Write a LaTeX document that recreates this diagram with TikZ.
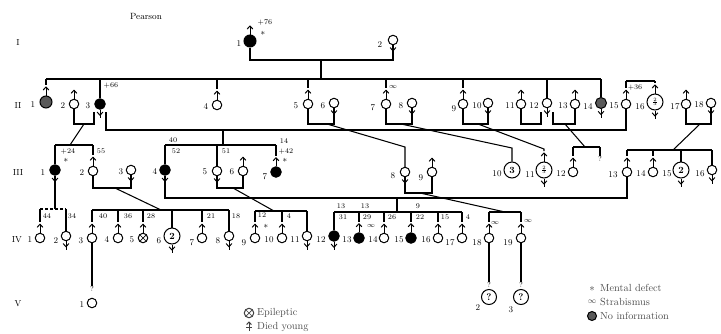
\documentclass[tikz,border=0pt]{standalone}
\usetikzlibrary{calc}
\newcommand{\Msym}[1]{\draw[sym] (#1.north) -- ++(0,-8.5); \draw[sym] ($(#1.north)+(-2.9,-5.4)$) -- ++(2.9,-3.1) -- ++(2.9,3.1);}
\newcommand{\Fsym}[1]{\draw[sym] (#1.south) -- ++(0,8.5); \draw[sym] ($(#1.south)+(-2.9,2.3)$) -- ++(2.9,3.2) -- ++(2.9,-3.2);}
\newcommand{\dropM}[2]{\draw[ln] (#2.north |- #1) -- ($(#2.north)+(0,-10.5)$);}
\newcommand{\dropF}[2]{\draw[ln] (#2.north |- #1) -- (#2.north);}
\newcommand{\twothree}{$\scriptscriptstyle\frac{2}{3}$}
\begin{document}
\begin{tikzpicture}[x=1pt,y=-1pt,
 ln/.style={line width=1.05pt},
 sym/.style={line width=0.95pt},
 ind/.style={circle,draw,line width=1pt,minimum size=9.5pt,inner sep=0pt},
 aff/.style={ind,fill=black,minimum size=10.5pt},
 bigc/.style={ind,minimum size=16pt,font=\fontsize{9.5}{9.5}\selectfont\bfseries},
 noinfo/.style={ind,fill=black!65,minimum size=11pt},
 epi/.style={ind,path picture={\draw[line width=0.7pt] (path picture bounding box.north west)--(path picture bounding box.south east) (path picture bounding box.north east)--(path picture bounding box.south west);}},
 idl/.style={font=\fontsize{8.8}{9}\selectfont,inner sep=0pt},
 agel/.style={font=\fontsize{7.2}{7.2}\selectfont,inner sep=0pt},
 star/.style={font=\fontsize{9}{9}\selectfont\bfseries,inner sep=0pt},
 genl/.style={font=\fontsize{8.8}{9}\selectfont,inner sep=0pt},
 legl/.style={font=\fontsize{10.3}{11}\selectfont,text=black!70,anchor=west,inner sep=0pt},
]
\useasboundingbox (0,0) rectangle (721,333);

% titles
\node[font=\fontsize{9}{9}\selectfont,inner sep=0pt] (title) at (146,16) {Pearson};
\node[genl] (gI) at (18,42) {I};
\node[genl] (gII) at (18,105) {II};
\node[genl] (gIII) at (18,172) {III};
\node[genl] (gIV) at (17,240) {IV};
\node[genl] (gV) at (18,304) {V};

% sibship coordinates
\coordinate (yII) at (0,79);
\coordinate (yB) at (0,81);
\coordinate (y145) at (0,145);
\coordinate (y147) at (0,147);
\coordinate (y150) at (0,150);
\coordinate (y209) at (0,209);
\coordinate (y210) at (0,210);
\coordinate (y211) at (0,211);
\coordinate (y212) at (0,212);

% ---------- Generation I
\node[aff,minimum size=12pt] (I1) at (250,41) {}; \Msym{I1}
\node[idl] (nI1) at (239,44) {1};
\node[agel] (aI1) at (265,22) {+76};
\node[star] (mI1) at (263,33) {$\ast$};
\node[ind] (I2) at (393,40) {}; \Fsym{I2}
\node[idl] (nI2) at (380,45) {2};
\coordinate (m1) at (321,60);
\draw[ln] (I1.south) |- (m1) -| (I2.south);
\draw[ln] (m1) -- (321,79);
\draw[ln] (46,79) -- (601,79);

% ---------- Generation II
\node[noinfo,minimum size=12pt] (II1) at (46,102) {}; \Msym{II1}
\node[idl] (nII1) at (33,105) {1};
\node[ind] (II2) at (74,104) {}; \Msym{II2} \node[idl] (nII2) at (63,106) {2};
\node[aff] (II3) at (100,104) {}; \Fsym{II3} \node[idl] (nII3) at (88,106) {3};
\node[agel] (aII3) at (111,86) {+66};
\node[ind] (II4) at (217,105) {}; \Msym{II4} \node[idl] (nII4) at (206,107) {4};
\node[ind] (II5) at (308,104) {}; \Msym{II5} \node[idl] (nII5) at (296,106) {5};
\node[ind] (II6) at (334,103) {}; \Fsym{II6} \node[idl] (nII6) at (323,106) {6};
\node[ind] (II7) at (386,104) {}; \Msym{II7} \node[idl] (nII7) at (373,108) {7};
\node[agel] (sII7) at (393,87) {$\infty$};
\node[ind] (II8) at (412,103) {}; \Fsym{II8} \node[idl] (nII8) at (401,106) {8};
\node[ind] (II9) at (463,104) {}; \Msym{II9} \node[idl] (nII9) at (454,109) {9};
\node[ind] (II10) at (488,103) {}; \Fsym{II10} \node[idl] (nII10) at (477,106) {10};
\node[ind] (II11) at (521,104) {}; \Msym{II11} \node[idl] (nII11) at (510,106) {11};
\node[ind] (II12) at (547,103) {}; \Fsym{II12} \node[idl] (nII12) at (534,106) {12};
\node[ind] (II13) at (575,104) {}; \Msym{II13} \node[idl] (nII13) at (563,106) {13};
\node[noinfo] (II14) at (601,103) {}; \Fsym{II14} \node[idl] (nII14) at (588,107) {14};
\node[ind] (II15) at (626,104) {}; \Msym{II15} \node[idl] (nII15) at (614,106) {15};
\node[bigc] (II16) at (655,102) {\twothree}; \Msym{II16} \Fsym{II16}
\node[idl] (nII16) at (640,107) {16};
\node[ind] (II17) at (686,104) {}; \Msym{II17} \node[idl] (nII17) at (675,107) {17};
\node[ind] (II18) at (711,103) {}; \Fsym{II18} \node[idl] (nII18) at (699,105) {18};

\dropM{yII}{II1} \dropF{yII}{II3} \dropM{yII}{II4} \dropM{yII}{II5}
\dropM{yII}{II7} \dropM{yII}{II9} \dropF{yII}{II12} \dropF{yII}{II14}

\draw[ln] (626,81) -- (655,81);
\dropM{yB}{II15} \dropM{yB}{II16}
\node[agel] (aII15) at (635,88) {+36};

% ---------- Generation III
\node[aff] (III1) at (55,170) {}; \Fsym{III1} \node[idl] (nIII1) at (43,173) {1};
\node[ind] (III2) at (93,171) {}; \Msym{III2} \node[idl] (nIII2) at (82,173) {2};
\node[ind] (III3) at (131,170) {}; \Fsym{III3} \node[idl] (nIII3) at (121,172) {3};
\node[aff] (III4) at (165,170) {}; \Fsym{III4} \node[idl] (nIII4) at (155,172) {4};
\node[ind] (III5) at (217,171) {}; \Fsym{III5} \node[idl] (nIII5) at (205,172) {5};
\node[ind] (III6) at (243,171) {}; \Msym{III6} \node[idl] (nIII6) at (232,172) {6};
\node[aff] (III7) at (276,172) {}; \Msym{III7} \node[idl] (nIII7) at (265,177) {7};
\node[ind] (III8) at (405,172) {}; \Fsym{III8} \node[idl] (nIII8) at (393,176) {8};
\node[ind] (III9) at (432,172) {}; \Msym{III9} \node[idl] (nIII9) at (421,178) {9};
\node[bigc] (III10) at (512,170) {3}; \node[idl] (nIII10) at (497,174) {10};
\node[bigc] (III11) at (544,170) {\twothree}; \Msym{III11} \Fsym{III11}
\node[idl] (nIII11) at (530,175) {11};
\node[ind] (III12) at (573,172) {}; \Msym{III12} \node[idl] (nIII12) at (561,174) {12};
\node[ind] (III13) at (627,172) {}; \Msym{III13} \node[idl] (nIII13) at (613,175) {13};
\node[ind] (III14) at (653,172) {}; \Msym{III14} \node[idl] (nIII14) at (641,174) {14};
\node[bigc] (III15) at (681,170) {2}; \Fsym{III15} \node[idl] (nIII15) at (667,174) {15};
\node[ind] (III16) at (712,170) {}; \Fsym{III16} \node[idl] (nIII16) at (700,174) {16};

% marriages of generation II
\draw[ln] (II2.south) -- (74,124) -- (94,124) -- (94,112);
\draw[ln] (106,112) -- (106,130) -| (II15.south);
\draw[ln] (223,130) -- (223,145);
\draw[ln] (84,124) -- (70,145);
\draw[ln] (II5.south) -- (308,124) -| (II6.south);
\draw[ln] (327,124) -- (405,147) -- (III8.north);
\draw[ln] (II7.south) -- (386,124) -| (II8.south);
\draw[ln] (401,124) -- (512,148) -- (III10.north);
\draw[ln] (II9.south) -- (463,124) -| (II10.south);
\draw[ln] (478,124) -- (544,149) -- ($(III11.north)+(0,-10.5)$);
\draw[ln] (II11.south) -- (521,124) -- (541,124) -- (541,112);
\draw[ln] (553,112) -- (553,124) -| (II13.south);
\draw[ln] (565,124) -- (585,147);
\draw[ln] (573,147) -- (600,147);
\dropM{y147}{III12}
\node[agel] (qIII) at (600,159) {?};
\draw[ln] (600,147) -- (qIII.north);
\draw[ln] (II17.south) -- (686,124) -| (II18.south);
\draw[ln] (700,124) -- (673,150);
\draw[ln] (627,150) -- (712,150);
\dropM{y150}{III13} \dropM{y150}{III14} \dropF{y150}{III15} \dropF{y150}{III16}

% sibships of generation III
\draw[ln] (55,145) -- (93,145);
\dropF{y145}{III1} \dropM{y145}{III2}
\node[agel] (aIII1) at (68,151) {+24};
\node[star] (mIII1) at (66,160) {$\ast$};
\node[agel] (aIII2) at (101,151) {55};
\draw[ln] (165,145) -- (276,145);
\dropF{y145}{III4} \dropF{y145}{III5} \dropM{y145}{III7}
\node[agel] (a40) at (173,140) {40};
\node[agel] (a52) at (176,151) {52};
\node[agel] (a51) at (226,151) {51};
\node[agel] (a14) at (284,141) {14};
\node[agel] (a42) at (286,151) {+42};
\node[star] (mIII7) at (285,160) {$\ast$};

% ---------- Generation IV
\node[ind] (IV1) at (40,238) {}; \Msym{IV1} \node[idl] (nIV1) at (30,240) {1};
\node[ind] (IV2) at (66,236) {}; \Fsym{IV2} \node[idl] (nIV2) at (56,241) {2};
\node[ind] (IV3) at (92,238) {}; \Msym{IV3} \node[idl] (nIV3) at (81,241) {3};
\node[ind] (IV4) at (118,238) {}; \Msym{IV4} \node[idl] (nIV4) at (107,240) {4};
\node[epi] (IV5) at (143,238) {}; \Msym{IV5} \node[idl] (nIV5) at (132,240) {5};
\node[bigc] (IV6) at (172,236) {2}; \Fsym{IV6} \node[idl] (nIV6) at (159,241) {6};
\node[ind] (IV7) at (202,238) {}; \Msym{IV7} \node[idl] (nIV7) at (192,243) {7};
\node[ind] (IV8) at (229,236) {}; \Fsym{IV8} \node[idl] (nIV8) at (218,241) {8};
\node[ind] (IV9) at (255,238) {}; \Msym{IV9} \node[idl] (nIV9) at (244,243) {9};
\node[ind] (IV10) at (282,238) {}; \Msym{IV10} \node[idl] (nIV10) at (269,240) {10};
\node[ind] (IV11) at (307,236) {}; \Fsym{IV11} \node[idl] (nIV11) at (295,240) {11};
\node[aff] (IV12) at (334,236) {}; \Fsym{IV12} \node[idl] (nIV12) at (321,240) {12};
\node[aff] (IV13) at (359,238) {}; \Msym{IV13} \node[idl] (nIV13) at (347,240) {13};
\node[agel] (sIV13) at (371,226) {$\infty$};
\node[ind] (IV14) at (384,238) {}; \Msym{IV14} \node[idl] (nIV14) at (373,240) {14};
\node[aff] (IV15) at (411,238) {}; \Msym{IV15} \node[idl] (nIV15) at (399,240) {15};
\node[ind] (IV16) at (438,238) {}; \Msym{IV16} \node[idl] (nIV16) at (426,240) {16};
\node[ind] (IV17) at (462,238) {}; \Msym{IV17} \node[idl] (nIV17) at (450,243) {17};
\node[ind] (IV18) at (489,238) {}; \Msym{IV18} \node[idl] (nIV18) at (477,243) {18};
\node[agel] (sIV18) at (495,223) {$\infty$};
\node[ind] (IV19) at (521,238) {}; \Msym{IV19} \node[idl] (nIV19) at (508,243) {19};
\node[agel] (sIV19) at (528,221) {$\infty$};

% marriages / sibships of generation III -> IV
\draw[ln] (III1.south) -- (55,209);
\draw[ln,dash pattern=on 3pt off 2pt] (40,209) -- (66,209);
\dropM{y209}{IV1} \dropF{y209}{IV2}
\node[agel] (a44) at (47,216) {44};
\node[agel] (a34) at (72,216) {34};

\draw[ln] (III2.south) -- (93,188) -| (III3.south);
\draw[ln] (115,188) -- (161,210);
\draw[ln] (92,210) -- (229,210);
\dropM{y210}{IV3} \dropM{y210}{IV4} \dropM{y210}{IV5} \dropF{y210}{IV6} \dropM{y210}{IV7} \dropF{y210}{IV8}
\node[agel] (b40) at (103,216) {40};
\node[agel] (b36) at (128,216) {36};
\node[agel] (b28) at (151,216) {28};
\node[agel] (b21) at (211,216) {21};
\node[agel] (b18) at (236,216) {18};

\draw[ln] (III4.south) -- (165,198) -| (III13.south);
\draw[ln] (397,198) -- (397,212);
\draw[ln] (334,212) -- (462,212);
\dropF{y212}{IV12} \dropM{y212}{IV13} \dropM{y212}{IV14} \dropM{y212}{IV15} \dropM{y212}{IV16} \dropM{y212}{IV17}
\node[agel] (c13a) at (341,206) {13};
\node[agel] (c13b) at (365,206) {13};
\node[agel] (c9) at (418,206) {9};
\node[agel] (c31) at (343,217) {31};
\node[agel] (c29) at (367,217) {29};
\node[agel] (c26) at (392,217) {26};
\node[agel] (c22) at (420,217) {22};
\node[agel] (c15) at (445,217) {15};
\node[agel] (c4) at (468,217) {4};

\draw[ln] (III5.south) -- (217,188) -| (III6.south);
\draw[ln] (233,188) -- (274,211);
\draw[ln] (255,211) -- (307,211);
\dropM{y211}{IV9} \dropM{y211}{IV10} \dropF{y211}{IV11}
\node[agel] (d12) at (262,215.5) {12};
\node[star] (mIV9) at (266,226) {$\ast$};
\node[agel] (d4) at (289,216) {4};

\draw[ln] (III8.south) -- (405,193) -| (III9.south);
\draw[ln] (420,193) -- (505,212);
\draw[ln] (489,212) -- (521,212);
\dropM{y212}{IV18} \dropM{y212}{IV19}

% ---------- Generation V
\node[agel] (qV1) at (92,289) {?};
\node[ind] (V1) at (92,303) {}; \node[idl] (nV1) at (82,305) {1};
\draw[ln] (IV3.south) -- (qV1.north);
\node[agel] (qV2) at (489,285) {?};
\node[bigc,minimum size=15pt] (V2) at (489,297) {?}; \node[idl] (nV2) at (478,308) {2};
\draw[ln] (IV18.south) -- (qV2.north);
\node[agel] (qV3) at (521,285) {?};
\node[bigc,minimum size=15pt] (V3) at (521,297) {?}; \node[idl] (nV3) at (511,310) {3};
\draw[ln] (IV19.south) -- (qV3.north);

% ---------- Legend
\node[epi,minimum size=9.5pt,draw=black!75] (Lepi) at (249,313) {};
\node[legl] (tepi) at (257,313) {Epileptic};
\coordinate (Ldy) at (249,331);
\draw[sym,black!75] (Ldy) -- ++(0,-9);
\draw[sym,black!75] ($(Ldy)+(-2.4,-6.4)$) -- ++(2.4,-2.6) -- ++(2.4,2.6);
\draw[sym,black!75] ($(Ldy)+(-2.6,-4)$) -- ++(5.2,0);
\node[legl] (tdy) at (257,327) {Died young};
\node[font=\fontsize{11}{11}\selectfont\bfseries,text=black!75,inner sep=0pt] (Lmd) at (592,289) {$\ast$};
\node[legl] (tmd) at (600,288) {Mental defect};
\node[font=\fontsize{8.5}{8.5}\selectfont,text=black!75,inner sep=0pt] (Lst) at (592,302) {$\infty$};
\node[legl] (tst) at (600,302) {Strabismus};
\node[noinfo,minimum size=9pt] (Lni) at (592,316) {};
\node[legl] (tni) at (600,316) {No information};
\end{tikzpicture}
\end{document}
